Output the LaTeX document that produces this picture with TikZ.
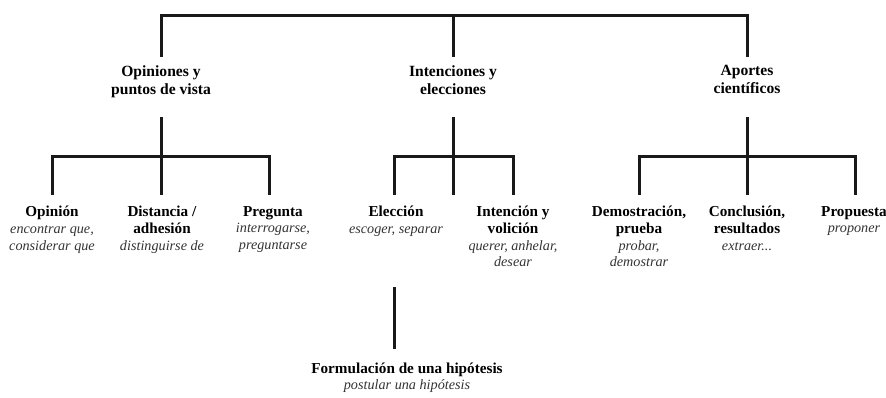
\documentclass[tikz,border=0pt]{standalone}
\usepackage{fontspec}
\setmainfont{Liberation Serif}
\newcommand\subtxt[1]{{\fontsize{14.2}{16.7}\selectfont\itshape\color{black!80}#1}}
\begin{document}
\begin{tikzpicture}[x=1pt,y=-1pt,
  conn/.style={line width=3pt,line cap=rect,black!90},
  lvlone/.style={font=\fontsize{15.6}{18}\selectfont\bfseries,align=center,anchor=north,inner sep=0pt,execute at begin node=\strut},
  lvltwo/.style={font=\fontsize{15.2}{16.7}\selectfont,align=center,anchor=north,inner sep=0pt,execute at begin node=\strut}]
\useasboundingbox (0,0) rectangle (886,397);
% level 1 (north = baseline - 12.6)
\node[lvlone] (op) at (161,65.4) {Opiniones y\\puntos de vista};
\node[lvlone] (in) at (453,65.4) {Intenciones y\\elecciones};
\node[lvlone] (ap) at (747,65.4) {Aportes\\científicos};
% level 2 (north = baseline - 11.7)
\node[lvltwo] (opi) at (52,206) {\textbf{Opinión}\\\subtxt{encontrar que,}\\\subtxt{considerar que}};
\node[lvltwo] (dis) at (162,206) {\textbf{Distancia /}\\\textbf{adhesión}\\\subtxt{distinguirse de}};
\node[lvltwo] (pre) at (273,206) {\textbf{Pregunta}\\\subtxt{interrogarse,}\\\subtxt{preguntarse}};
\node[lvltwo] (ele) at (396,206) {\textbf{Elección}\\\subtxt{escoger, separar}};
\node[lvltwo] (int) at (513,206) {\textbf{Intención y}\\\textbf{volición}\\\subtxt{querer, anhelar,}\\\subtxt{desear}};
\node[lvltwo] (dem) at (639,206) {\textbf{Demostración,}\\\textbf{prueba}\\\subtxt{probar,}\\\subtxt{demostrar}};
\node[lvltwo] (con) at (747,206) {\textbf{Conclusión,}\\\textbf{resultados}\\\subtxt{extraer...}};
\node[lvltwo] (pro) at (854,206) {\textbf{Propuesta}\\\subtxt{proponer}};
\node[lvltwo] (for) at (407,362.5) {\textbf{Formulación de una hipótesis}\\\subtxt{postular una hipótesis}};
% connector ends
\coordinate (bar) at (453,15);
\coordinate (opT) at (161,55); \coordinate (inT) at (453,55); \coordinate (apT) at (747,55);
\coordinate (opB) at (161,118); \coordinate (inB) at (453,118); \coordinate (apB) at (747,118);
\coordinate (opJ) at (161,156); \coordinate (inJ) at (453,156); \coordinate (apJ) at (747,156);
\coordinate (opiT) at (52,193); \coordinate (disT) at (161,193); \coordinate (preT) at (269,193);
\coordinate (eleT) at (394,193); \coordinate (inM) at (453,193); \coordinate (intT) at (513,193);
\coordinate (demT) at (639,193); \coordinate (conT) at (747,193); \coordinate (proT) at (855,193);
\coordinate (forA) at (394,288); \coordinate (forB) at (394,347);
% connectors
\draw[conn] (opT) |- (bar) -| (apT);
\draw[conn] (bar) -- (inT);
\draw[conn] (opB) -- (disT);
\draw[conn] (opiT) |- (opJ) -| (preT);
\draw[conn] (inB) -- (inM);
\draw[conn] (eleT) |- (inJ) -| (intT);
\draw[conn] (apB) -- (conT);
\draw[conn] (demT) |- (apJ) -| (proT);
\draw[conn] (forA) -- (forB);
\end{tikzpicture}
\end{document}
